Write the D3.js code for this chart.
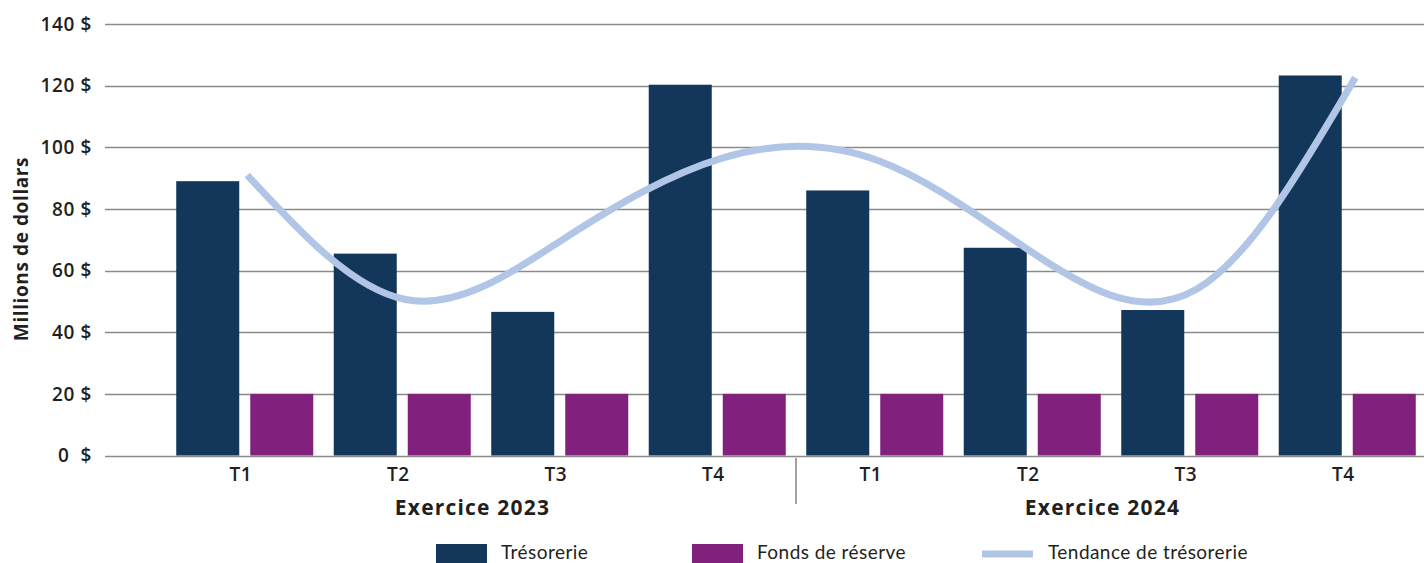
<!DOCTYPE html>
<html lang="fr">
<head>
<meta charset="utf-8">
<script src="https://cdn.jsdelivr.net/npm/d3@7"></script>
<style>
  html, body { margin: 0; padding: 0; background: #fff; }
  svg { display: block; }
  text { fill: #231f20; }
</style>
</head>
<body>
<svg id="chart" width="1424" height="563"></svg>
<script>
// Quarterly data, fiscal years 2023 and 2024 (millions of dollars)
const years = ["Exercice 2023", "Exercice 2024"];
const quarters = ["T1", "T2", "T3", "T4"];
const tresorerie = [89, 65.5, 46.6, 120.3, 86, 67.4, 47.2, 123.3];
const fondsReserve = [20, 20, 20, 20, 20, 20, 20, 20];
const tendance = [91, 50.6, 70.3, 96.5, 95.4, 64.5, 54, 122.6];
const yTicks = [0, 20, 40, 60, 80, 100, 120, 140];
const yTickLabels = ["0  $", "20 $", "40 $", "60 $", "80 $", "100 $", "120 $", "140 $"];
const seriesNames = ["Trésorerie", "Fonds de réserve", "Tendance de trésorerie"];
const yTitle = "Millions de dollars";

const colors = { tresorerie: "#12375a", reserve: "#82207d", trend: "#b1c5e6", grid: "#8a8a8a" };
const boldFont = "'Open Sans', sans-serif";

const svg = d3.select("#chart");

// Category keys: one per quarter of each year
const cats = [];
years.forEach((yr, yi) => quarters.forEach(q => cats.push({ key: yi + "-" + q, year: yi, q: q, i: cats.length })));

const y = d3.scaleLinear().domain([0, 140]).range([455.5, 24]);
const x = d3.scaleBand().domain(cats.map(d => d.key)).range([166, 1426])
  .paddingInner(0.13).paddingOuter(0.065);
const xSub = d3.scaleBand().domain(["tresorerie", "reserve"]).range([0, x.bandwidth()])
  .paddingInner(0.1486).paddingOuter(0);

// Gridlines
svg.append("g").selectAll("line").data(yTicks).join("line")
  .attr("x1", 105).attr("x2", 1424)
  .attr("y1", d => Math.round(y(d)) + 0.5).attr("y2", d => Math.round(y(d)) + 0.5)
  .attr("stroke", colors.grid).attr("stroke-width", 1.3);

// Y tick labels
svg.append("g").selectAll("text").data(yTicks).join("text")
  .attr("x", 92).attr("y", d => y(d)).attr("dy", "0.36em")
  .attr("text-anchor", "end")
  .style("white-space", "pre")
  .attr("font-family", boldFont).attr("font-weight", 600).attr("font-size", 19)
  .attr("letter-spacing", 0.6)
  .text((d, i) => yTickLabels[i]);

// Y axis title
svg.append("text")
  .attr("transform", "translate(28,249) rotate(-90)")
  .attr("text-anchor", "middle")
  .attr("font-family", boldFont).attr("font-weight", 700).attr("font-size", 19)
  .attr("letter-spacing", 0.6)
  .text(yTitle);

// Bars
const groups = svg.append("g").selectAll("g").data(cats).join("g")
  .attr("transform", d => `translate(${x(d.key)},0)`);

groups.append("rect")
  .attr("x", xSub("tresorerie")).attr("width", xSub.bandwidth())
  .attr("y", d => y(tresorerie[d.i])).attr("height", d => y(0) - y(tresorerie[d.i]))
  .attr("fill", colors.tresorerie);

groups.append("rect")
  .attr("x", xSub("reserve")).attr("width", xSub.bandwidth())
  .attr("y", d => y(fondsReserve[d.i])).attr("height", d => y(0) - y(fondsReserve[d.i]))
  .attr("fill", colors.reserve);

// Trend curve
const xTrend = d3.scaleLinear().domain([0, cats.length - 1])
  .range([x(cats[0].key) + x.bandwidth() / 2 + 2.5, x(cats[cats.length - 1].key) + x.bandwidth() / 2 + 8]);
const trendLine = d3.line().x((d, i) => xTrend(i)).y(d => y(d)).curve(d3.curveNatural);
svg.append("path").datum(tendance)
  .attr("d", trendLine)
  .attr("fill", "none").attr("stroke", colors.trend).attr("stroke-width", 7);

// Quarter labels
svg.append("g").selectAll("text").data(cats).join("text")
  .attr("x", d => x(d.key) + x.bandwidth() / 2 - 4).attr("y", 481)
  .attr("text-anchor", "middle")
  .attr("font-family", boldFont).attr("font-weight", 600).attr("font-size", 19)
  .attr("letter-spacing", 0.5)
  .text(d => d.q);

// Separator between the two fiscal years
const sepX = (x(cats[3].key) + x.bandwidth() + x(cats[4].key)) / 2;
svg.append("line")
  .attr("x1", sepX).attr("x2", sepX).attr("y1", 458).attr("y2", 504)
  .attr("stroke", "#666").attr("stroke-width", 1.2);

// Fiscal year labels
svg.append("g").selectAll("text").data(years).join("text")
  .attr("x", (d, yi) => {
    const first = cats[yi * 4], last = cats[yi * 4 + 3];
    return (x(first.key) + x(last.key) + x.bandwidth()) / 2 - 8.5;
  })
  .attr("y", 514.5)
  .attr("text-anchor", "middle")
  .attr("font-family", boldFont).attr("font-weight", 700).attr("font-size", 21)
  .attr("letter-spacing", 1.2)
  .text(d => d);

// Legend
const legendX = [436, 692, 982];
const legend = svg.append("g").selectAll("g").data(seriesNames).join("g")
  .attr("transform", (d, i) => `translate(${legendX[i]},0)`);
legend.filter((d, i) => i < 2).append("rect")
  .attr("x", 0).attr("y", 544).attr("width", 51).attr("height", 20)
  .attr("fill", (d, i) => i === 0 ? colors.tresorerie : colors.reserve);
legend.filter((d, i) => i === 2).append("line")
  .attr("x1", 0).attr("x2", 51).attr("y1", 554).attr("y2", 554)
  .attr("stroke", colors.trend).attr("stroke-width", 7);
legend.append("text")
  .attr("x", (d, i) => i === 2 ? 66 : 65).attr("y", 558.5)
  .attr("font-family", "Lato, sans-serif").attr("font-weight", 400).attr("font-size", 19)
  .attr("letter-spacing", 0.45)
  .text(d => d);
</script>
</body>
</html>
